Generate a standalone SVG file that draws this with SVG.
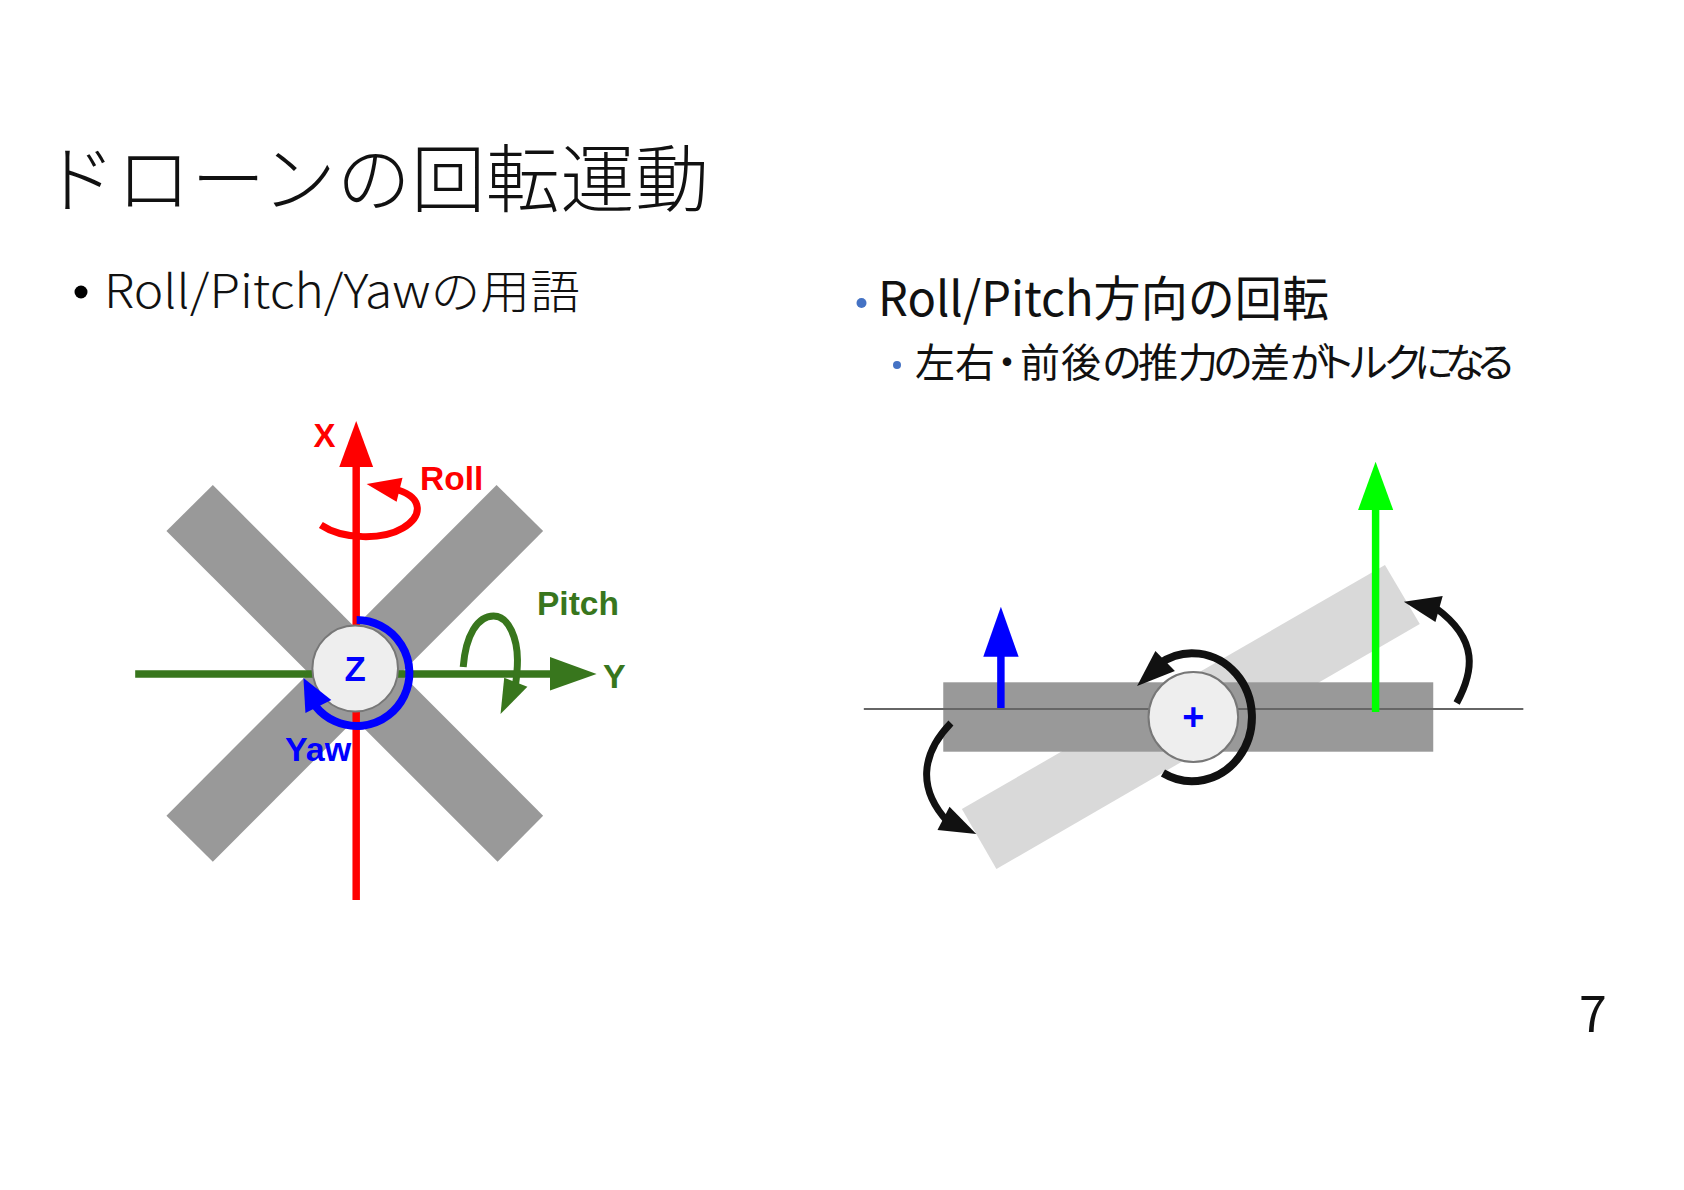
<svg xmlns="http://www.w3.org/2000/svg" width="1684" height="1190" viewBox="0 0 1684 1190">
<style>
.jp{font-family:"Noto Sans CJK JP","Noto Sans",sans-serif;fill:#111;font-weight:300}
.lb{font-family:"Liberation Sans",Arial,sans-serif;font-weight:700}
.arc{fill:none;stroke-linecap:butt}
.hub{fill:#eee;stroke:#777;stroke-width:2}
</style>
<rect width="1684" height="1190" fill="#fff"/>
<g id="title"><text class="jp" x="42" y="206" font-size="74" textLength="667" lengthAdjust="spacing">ドローンの回転運動</text></g>
<g id="left-heading">
<circle cx="81" cy="292" r="6.5" fill="#000"/>
<text class="jp" x="104" y="308" font-size="46" textLength="476" lengthAdjust="spacingAndGlyphs">Roll/Pitch/Yawの用語</text>
</g>
<g id="right-heading">
<circle cx="861.5" cy="303" r="5" fill="#4472c4"/>
<text class="jp" x="878" y="316" font-size="48" textLength="451" lengthAdjust="spacingAndGlyphs" style="font-weight:400">Roll/Pitch方向の回転</text>
<circle cx="897" cy="365" r="4" fill="#4472c4"/>
<text class="jp" x="915 955 987 1020 1061 1102 1138 1178 1213 1250 1290 1316 1348 1383 1414 1445 1476" y="377" font-size="40" style="font-weight:400">左右・前後の推力の差がトルクになる</text>
</g>
<g id="page-number"><text class="jp" x="1579" y="1032" font-size="50" style="font-weight:400">7</text></g>

<g transform="translate(-0.2 0) scale(.9955 1)">
<g id="drone-x">
<polygon points="214,485 167.4,531 500,861.7 545.8,815.7" fill="#999"/>
<polygon points="499,485 545.8,531 214,861.7 167.4,815.7" fill="#999"/>
</g>
<g id="axes">
<path d="M358 900V465" stroke="#f00" stroke-width="7.5" fill="none"/>
<polygon points="358,421 375,467 341,467" fill="#f00"/>
<path d="M136 674H555" stroke="#38761d" stroke-width="7.5" fill="none"/>
<polygon points="599.5,674 552.7,657 552.7,690.5" fill="#38761d"/>
</g>
<g id="hub-z"><circle class="hub" cx="357" cy="668.5" r="43"/><text class="lb" x="357" y="681.5" font-size="35" text-anchor="middle" fill="#00f">Z</text></g>
<g id="rotation-arrows">
<path class="arc" d="M322.5 525C345 540 385 540 405 528C425 516 425 498 400 490" stroke="#f00" stroke-width="7"/>
<polygon points="368.5,484 404.5,477.7 398.6,501.7" fill="#f00"/>
<path class="arc" d="M465.5 667C468 635 480 616 496 616C512 616 520 640 520 660C520 670 519 678 518 685" stroke="#38761d" stroke-width="7"/>
<polygon points="503,714 530,686.7 506.7,677.7" fill="#38761d"/>
<path class="arc" d="M358.5 620A53 53 0 1 1 317 706" stroke="#00f" stroke-width="8"/>
<polygon points="305,678 307,713 333,700" fill="#00f"/>
</g>
</g>
<g id="labels-left">
<text class="lb" x="313.5" y="447" font-size="33" fill="#f00">X</text>
<text class="lb" x="420" y="490" font-size="33.5" fill="#f00">Roll</text>
<text class="lb" x="537" y="615" font-size="33.5" fill="#38761d">Pitch</text>
<text class="lb" x="603" y="688" font-size="34" fill="#38761d">Y</text>
<text class="lb" x="285" y="761" font-size="34" fill="#00f">Yaw</text>
</g>

<g transform="translate(4.2 0) scale(.9955 1)">
<g id="propeller-tilted"><polygon points="1387,565 1422,624 996.7,869 962,809" fill="#d9d9d9"/></g>
<g id="propeller-level"><rect x="943.3" y="682.3" width="492.2" height="69.4" fill="#999"/></g>
<g id="horizon"><path d="M863.5 709H1526" stroke="#666" stroke-width="2" fill="none"/></g>
<g id="thrust-arrows">
<path d="M1001.2 708V655" stroke="#00f" stroke-width="7.5" fill="none"/>
<polygon points="1001.2,606.7 1019,656.7 983.5,656.7" fill="#00f"/>
<path d="M1377.6 712V508" stroke="#0f0" stroke-width="7.5" fill="none"/>
<polygon points="1377.6,461.7 1395.3,510 1360,510" fill="#0f0"/>
</g>
<g id="hub-plus"><circle class="hub" cx="1194.5" cy="717" r="45"/><text class="lb" x="1194.5" y="730" font-size="38" text-anchor="middle" fill="#00f">+</text></g>
<g id="tilt-arrows">
<path class="arc" d="M1164 773A60 64 0 1 0 1160 664" stroke="#111" stroke-width="8"/>
<polygon points="1138,686 1156.4,651 1176,671" fill="#111"/>
<path class="arc" d="M1459 703C1476 672 1482 640 1438 608" stroke="#111" stroke-width="7"/>
<polygon points="1406,601.7 1445,596 1437.7,622" fill="#111"/>
<path class="arc" d="M951 723C920 755 918 790 948 822" stroke="#111" stroke-width="7"/>
<polygon points="976.5,834 937.5,830 949.6,806.7" fill="#111"/>
</g>
</g>
</svg>
